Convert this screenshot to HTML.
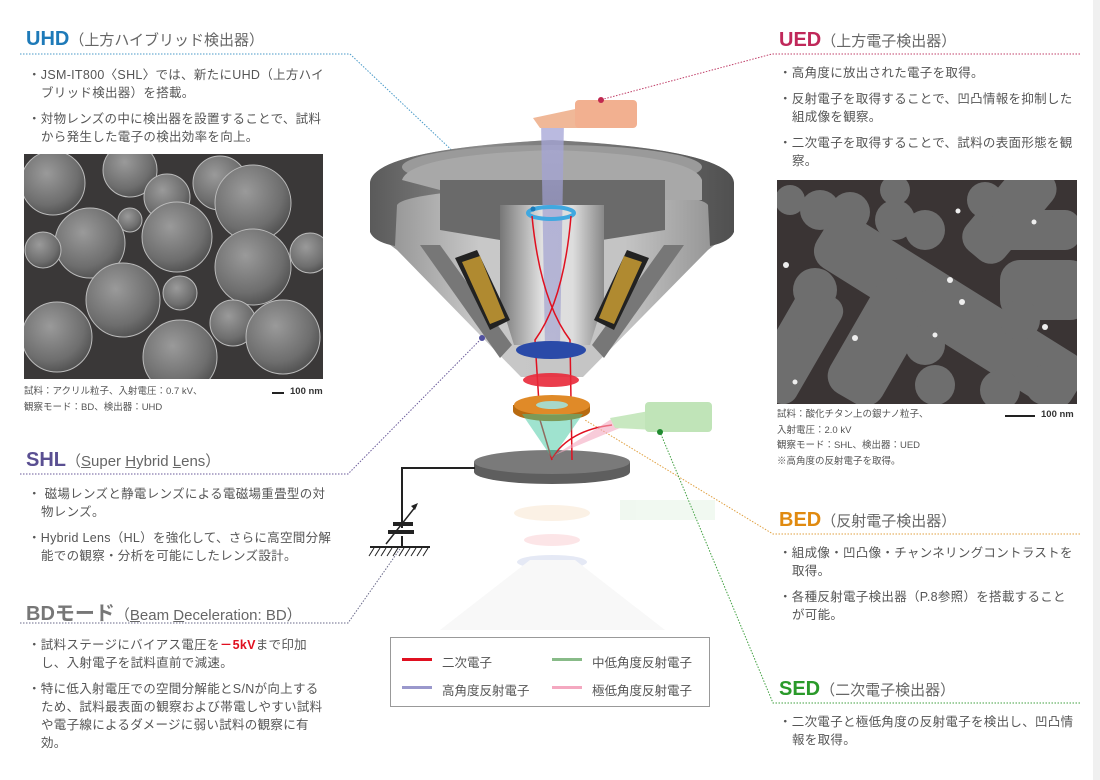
<!DOCTYPE html>
<html><head><meta charset="utf-8"><style>
body{margin:0;background:#fff;}
#w{position:relative;width:1100px;height:780px;overflow:hidden;background:#fff;font-family:"Liberation Sans","Noto Sans CJK JP",sans-serif;color:#555;}
.t{position:absolute;white-space:nowrap;}
.h{font-size:20px;font-weight:bold;}
.s{font-size:15px;color:#666;font-weight:normal;}
.b{position:absolute;font-size:12.5px;line-height:18px;color:#555;white-space:nowrap;letter-spacing:0.3px;}
.b p{margin:0 0 8px 0;padding-left:13px;text-indent:-13px;}
.cap{position:absolute;font-size:9.5px;line-height:15.5px;color:#555;}
.leg{position:absolute;font-size:12.5px;color:#555;}
</style></head><body><div id="w">
<svg width="1100" height="780" style="position:absolute;left:0;top:0">
<defs>
<radialGradient id="sp" cx="40%" cy="35%" r="65%"><stop offset="0" stop-color="#9a9a9a"/><stop offset="0.75" stop-color="#6e6e6e"/><stop offset="1" stop-color="#555"/></radialGradient>
<linearGradient id="rim" x1="0" x2="1"><stop offset="0" stop-color="#5a5a5a"/><stop offset="0.3" stop-color="#8a8a8a"/><stop offset="0.6" stop-color="#777"/><stop offset="1" stop-color="#505050"/></linearGradient>
<linearGradient id="cone" x1="0" x2="1"><stop offset="0" stop-color="#8a8a8a"/><stop offset="0.3" stop-color="#c8c8c8"/><stop offset="0.7" stop-color="#c4c4c4"/><stop offset="1" stop-color="#8a8a8a"/></linearGradient>
<linearGradient id="bore" x1="0" x2="1"><stop offset="0" stop-color="#777"/><stop offset="0.4" stop-color="#e0e0e0"/><stop offset="0.7" stop-color="#ddd"/><stop offset="1" stop-color="#888"/></linearGradient>
<linearGradient id="beam" x1="0" x2="0" y1="0" y2="1"><stop offset="0" stop-color="#a8a8d8" stop-opacity=".8"/><stop offset="1" stop-color="#9090c8" stop-opacity=".5"/></linearGradient>
<clipPath id="lc"><rect x="24" y="154" width="299" height="225"/></clipPath>
<clipPath id="rc"><rect x="777" y="180" width="300" height="224"/></clipPath>
</defs>
<rect x="1093" y="0" width="7" height="780" fill="#f0f0f0"/>
<g fill="none" stroke-dasharray="1.5 1.5" stroke-width="1">
<path d="M20 54 H350 L515 210" stroke="#4a9ac8"/>
<path d="M1080 54 H772 L600 100" stroke="#c0406a"/>
<path d="M20 474 H348 L482 338" stroke="#6a5a9a"/>
<path d="M20 623 H348 L402 546" stroke="#6a6a8a"/>
<path d="M1080 534 H773 L585 420" stroke="#e0a040"/>
<path d="M1080 703 H773 L660 432" stroke="#40a040"/>
</g>
<g clip-path="url(#lc)">
<rect x="24" y="154" width="299" height="225" fill="#3a3838"/>
<g fill="url(#sp)" stroke="#bbb" stroke-width="1">
<circle cx="130" cy="170" r="27"/><circle cx="220" cy="183" r="27"/><circle cx="53" cy="183" r="32"/><circle cx="167" cy="197" r="23"/>
<circle cx="310" cy="253" r="20"/><circle cx="130" cy="220" r="12"/><circle cx="90" cy="243" r="35"/><circle cx="177" cy="237" r="35"/>
<circle cx="253" cy="203" r="38"/><circle cx="43" cy="250" r="18"/><circle cx="253" cy="267" r="38"/><circle cx="180" cy="293" r="17"/>
<circle cx="233" cy="323" r="23"/><circle cx="123" cy="300" r="37"/><circle cx="57" cy="337" r="35"/><circle cx="180" cy="357" r="37"/><circle cx="283" cy="337" r="37"/>
</g>
</g>
<g clip-path="url(#rc)">
<rect x="777" y="180" width="300" height="224" fill="#3a3434"/>
<g fill="#6e6e6e">
<rect x="820" y="230" width="300" height="60" rx="20" transform="rotate(32 870 250)"/>
<rect x="760" y="330" width="120" height="50" rx="15" transform="rotate(-60 800 370)"/>
<rect x="830" y="320" width="130" height="60" rx="20" transform="rotate(-60 880 360)"/>
<rect x="960" y="190" width="110" height="50" rx="18" transform="rotate(-50 1010 220)"/>
<rect x="1000" y="260" width="90" height="60" rx="20"/>
<rect x="990" y="210" width="90" height="40" rx="15"/>
<circle cx="815" cy="290" r="22"/><circle cx="810" cy="320" r="22"/><circle cx="850" cy="212" r="20"/><circle cx="820" cy="210" r="20"/>
<circle cx="895" cy="220" r="20"/><circle cx="925" cy="230" r="20"/><circle cx="930" cy="310" r="20"/><circle cx="925" cy="345" r="20"/>
<circle cx="935" cy="385" r="20"/><circle cx="985" cy="200" r="18"/><circle cx="1000" cy="390" r="20"/><circle cx="1045" cy="385" r="20"/>
<circle cx="895" cy="190" r="15"/><circle cx="1020" cy="320" r="20"/><circle cx="790" cy="200" r="15"/>
</g>
<g fill="#eee"><circle cx="950" cy="280" r="3"/><circle cx="962" cy="302" r="3"/><circle cx="1045" cy="327" r="3"/><circle cx="786" cy="265" r="3"/><circle cx="855" cy="338" r="3"/><circle cx="935" cy="335" r="2.5"/><circle cx="1034" cy="222" r="2.5"/><circle cx="958" cy="211" r="2.5"/><circle cx="795" cy="382" r="2.5"/></g>
</g>
<rect x="272" y="392" width="12" height="2" fill="#222"/>
<rect x="1005" y="415" width="30" height="2" fill="#222"/>
<g opacity="0.12">
<ellipse cx="552" cy="513" rx="38" ry="8" fill="#e09030"/>
<ellipse cx="552" cy="540" rx="28" ry="6" fill="#ee3344"/>
<ellipse cx="552" cy="562" rx="35" ry="7" fill="#3050b0"/>
<rect x="620" y="500" width="95" height="20" fill="#8c8"/>
</g>
<path d="M440 630 L530 560 L575 560 L665 630 Z" fill="#f8f8f8"/>
<path d="M474 462 v10 a78 12 0 0 0 156 0 v-10 Z" fill="#5e5e5e"/>
<ellipse cx="552" cy="462" rx="78" ry="12" fill="#7a7a7a"/>
<path d="M475 468 H402 V528" stroke="#222" stroke-width="2" fill="none"/>
<path d="M402 536 V546" stroke="#222" stroke-width="2"/>
<rect x="393" y="522" width="20" height="4" fill="#222"/>
<rect x="388" y="530" width="26" height="4" fill="#222"/>
<path d="M386 544 L416 506" stroke="#222" stroke-width="1.5"/><path d="M418 503 l-7 3 l4 4 z" fill="#222"/>
<path d="M370 547 H430" stroke="#222" stroke-width="2"/>
<g stroke="#222" stroke-width="1"><path d="M374 548 l-5 8 M380 548 l-5 8 M386 548 l-5 8 M392 548 l-5 8 M398 548 l-5 8 M404 548 l-5 8 M410 548 l-5 8 M416 548 l-5 8 M422 548 l-5 8 M428 548 l-5 8"/></g>
<path d="M370 183 Q372 150 552 140 Q732 150 734 183 V230 L708 250 L583 377 H521 L397 250 L370 230 Z" fill="url(#cone)"/>
<path d="M370 183 Q372 150 552 140 Q732 150 734 183 V232 Q730 242 710 246 L708 205 Q700 192 552 185 Q404 192 397 205 L395 246 Q374 242 370 232 Z" fill="url(#rim)"/>
<ellipse cx="552" cy="167" rx="150" ry="22" fill="#9a9a9a"/>
<path d="M402 180 Q410 155 552 150 Q694 155 702 180 L702 200 H440 V190 Z" fill="#a8a8a8"/>
<path d="M440 180 H665 V230 L602 240 H500 L440 230 Z" fill="#6a6a6a"/>
<path d="M500 205 H604 V300 L590 345 H514 L500 300 Z" fill="url(#bore)"/>
<path d="M420 245 L440 245 L512 345 L500 358 Z" fill="#777"/>
<path d="M684 245 L664 245 L592 345 L604 358 Z" fill="#777"/>
<path d="M455 258 L477 250 L510 320 L490 330 Z" fill="#222"/>
<path d="M462 262 L480 256 L505 318 L490 324 Z" fill="#b08a30"/>
<path d="M649 258 L627 250 L594 320 L614 330 Z" fill="#222"/>
<path d="M642 262 L624 256 L599 318 L614 324 Z" fill="#b08a30"/>
<path d="M541 120 H564 L560 350 H545 Z" fill="url(#beam)"/>
<ellipse cx="551" cy="213" rx="23" ry="6" fill="none" stroke="#40a8e0" stroke-width="4"/>
<g stroke="#e01020" stroke-width="1.5" fill="none">
<path d="M532 216 Q540 300 570 340 L572 460"/>
<path d="M571 216 Q564 300 535 340 L540 420 L552 460"/>
<path d="M552 458 Q570 430 612 425"/>
</g>
<ellipse cx="551" cy="350" rx="35" ry="9" fill="#2a4aa8"/>
<ellipse cx="551" cy="380" rx="28" ry="7" fill="#e82838" opacity=".9"/>
<path d="M513 405 v6 a38 10 0 0 0 77 0 v-6 Z" fill="#b86a10"/>
<ellipse cx="552" cy="405" rx="38" ry="10" fill="#e08a28"/>
<ellipse cx="552" cy="405" rx="16" ry="4" fill="#a8d8c8"/>
<path d="M522 414 L552 458 L583 414 Z" fill="#40c8a0" opacity=".5"/>
<path d="M555 455 L613 418 L620 428 Z" fill="#f4a8c0" opacity=".6"/>
<path d="M533 118 L580 108 L585 128 L540 128 Z" fill="#f0b898"/>
<rect x="575" y="100" width="62" height="28" rx="4" fill="#f2b090"/>
<path d="M610 418 L655 410 L655 430 L615 428 Z" fill="#c8e8c0"/>
<rect x="645" y="402" width="67" height="30" rx="4" fill="#c0e4b8"/>
<circle cx="601" cy="100" r="3" fill="#c02850"/>
<circle cx="660" cy="432" r="3" fill="#208a30"/>
<circle cx="482" cy="338" r="3" fill="#5050a0"/>
<circle cx="533" cy="209" r="2.5" fill="#1a7ab8"/>
<rect x="390.5" y="637.5" width="319" height="69" fill="#fff" stroke="#999"/>
<rect x="402" y="658" width="30" height="3" fill="#e01020"/>
<rect x="402" y="686" width="30" height="3" fill="#9a98cc"/>
<rect x="552" y="658" width="30" height="3" fill="#88bb88"/>
<rect x="552" y="686" width="30" height="3" fill="#f4a8c0"/>
</svg>

<div class="t h" style="left:26px;top:28px;color:#1e7ab8">UHD<span class="s">（上方ハイブリッド検出器）</span></div>
<div class="b" style="left:28px;top:66px"><p>・JSM-IT800〈SHL〉では、新たにUHD（上方ハイ<br>ブリッド検出器）を搭載。</p><p>・対物レンズの中に検出器を設置することで、試料<br>から発生した電子の検出効率を向上。</p></div>
<div class="cap" style="left:24px;top:384px">試料：アクリル粒子、入射電圧：0.7 kV、<br>観察モード：BD、検出器：UHD</div>
<div class="cap t" style="left:290px;top:384px;font-weight:bold;color:#333">100 nm</div>

<div class="t h" style="left:26px;top:449px;color:#5a4f92">SHL<span class="s">（<u>S</u>uper <u>H</u>ybrid <u>L</u>ens）</span></div>
<div class="b" style="left:28px;top:485px"><p>・ 磁場レンズと静電レンズによる電磁場重畳型の対<br>物レンズ。</p><p>・Hybrid Lens（HL）を強化して、さらに高空間分解<br>能での観察・分析を可能にしたレンズ設計。</p></div>

<div class="t h" style="left:26px;top:597px;color:#777">BDモード<span class="s">（<u>B</u>eam <u>D</u>eceleration: BD）</span></div>
<div class="b" style="left:28px;top:636px"><p>・試料ステージにバイアス電圧を<b style="color:#e01020">－5kV</b>まで印加<br>し、入射電子を試料直前で減速。</p><p>・特に低入射電圧での空間分解能とS/Nが向上する<br>ため、試料最表面の観察および帯電しやすい試料<br>や電子線によるダメージに弱い試料の観察に有<br>効。</p></div>

<div class="t h" style="left:779px;top:29px;color:#c0285a">UED<span class="s">（上方電子検出器）</span></div>
<div class="b" style="left:779px;top:64px"><p>・高角度に放出された電子を取得。</p><p>・反射電子を取得することで、凹凸情報を抑制した<br>組成像を観察。</p><p>・二次電子を取得することで、試料の表面形態を観<br>察。</p></div>
<div class="cap" style="left:777px;top:407px">試料：酸化チタン上の銀ナノ粒子、<br>入射電圧：2.0 kV<br>観察モード：SHL、検出器：UED<br>※高角度の反射電子を取得。</div>
<div class="cap t" style="left:1041px;top:407px;font-weight:bold;color:#333">100 nm</div>

<div class="t h" style="left:779px;top:509px;color:#e08a10">BED<span class="s">（反射電子検出器）</span></div>
<div class="b" style="left:779px;top:544px"><p>・組成像・凹凸像・チャンネリングコントラストを<br>取得。</p><p>・各種反射電子検出器（P.8参照）を搭載すること<br>が可能。</p></div>

<div class="t h" style="left:779px;top:678px;color:#2a9a2a">SED<span class="s">（二次電子検出器）</span></div>
<div class="b" style="left:779px;top:713px"><p>・二次電子と極低角度の反射電子を検出し、凹凸情<br>報を取得。</p></div>

<div class="leg t" style="left:442px;top:652px">二次電子</div>
<div class="leg t" style="left:442px;top:680px">高角度反射電子</div>
<div class="leg t" style="left:592px;top:652px">中低角度反射電子</div>
<div class="leg t" style="left:592px;top:680px">極低角度反射電子</div>
</div></body></html>
